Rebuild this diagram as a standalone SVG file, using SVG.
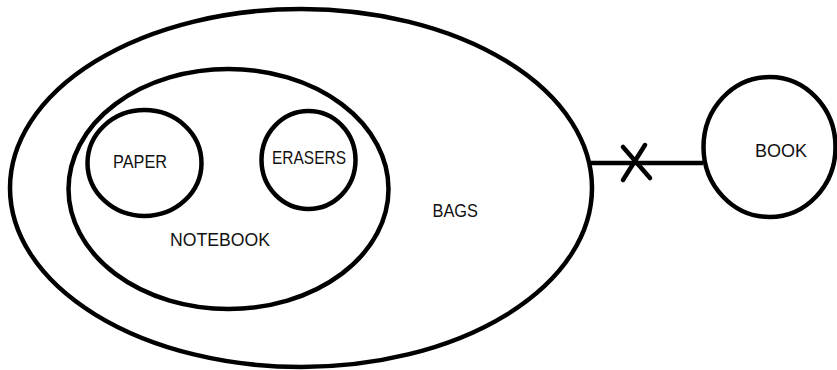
<svg xmlns="http://www.w3.org/2000/svg" width="837" height="370" viewBox="0 0 837 370">
<style>
.shape{fill:none;stroke:#000;stroke-width:4.5}
.lbl{font-family:"Liberation Sans",Arial,sans-serif;font-size:18px;fill:#111}
.conn{stroke:#000;stroke-width:4.5;stroke-linecap:round;fill:none}
</style>
<rect width="837" height="370" fill="#fff"/>
<g id="bags">
<ellipse class="shape" cx="301" cy="188" rx="291" ry="179"/>
<text class="lbl" x="432.5" y="217" textLength="45.5" lengthAdjust="spacingAndGlyphs">BAGS</text>
</g>
<g id="notebook">
<ellipse class="shape" cx="228.5" cy="189" rx="160" ry="120"/>
<text class="lbl" x="170" y="246" textLength="100" lengthAdjust="spacingAndGlyphs">NOTEBOOK</text>
</g>
<g id="paper">
<ellipse class="shape" cx="144.5" cy="163" rx="57" ry="53"/>
<text class="lbl" x="113" y="168" textLength="54" lengthAdjust="spacingAndGlyphs">PAPER</text>
</g>
<g id="erasers">
<ellipse class="shape" cx="308.5" cy="160" rx="47" ry="49"/>
<text class="lbl" x="272" y="164" textLength="74" lengthAdjust="spacingAndGlyphs">ERASERS</text>
</g>
<g id="book">
<ellipse class="shape" cx="769.5" cy="147" rx="66" ry="70"/>
<text class="lbl" x="755" y="157" textLength="52" lengthAdjust="spacingAndGlyphs">BOOK</text>
</g>
<g id="connectors">
<line class="conn" x1="591" y1="163" x2="703" y2="163" style="stroke-linecap:butt"/>
<line class="conn" x1="623" y1="147" x2="650" y2="178"/>
<line class="conn" x1="645" y1="145" x2="623" y2="180"/>
</g>
</svg>
